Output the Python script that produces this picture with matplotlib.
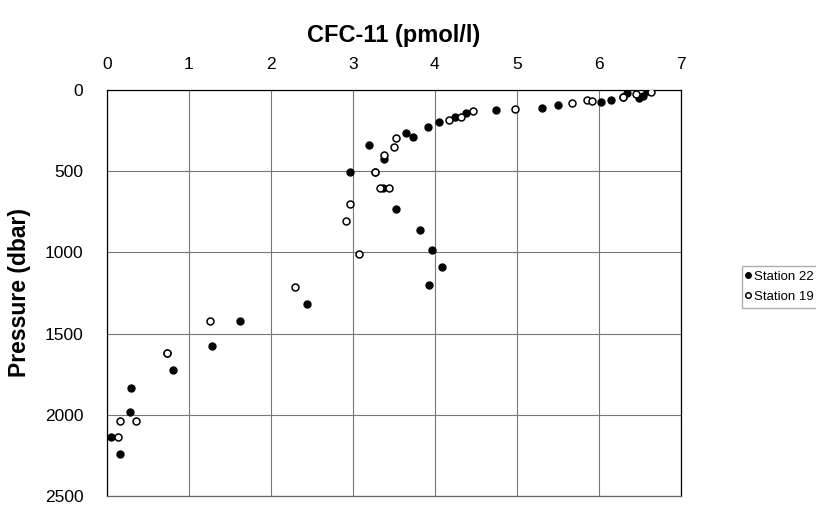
import matplotlib
matplotlib.use('Agg')
import matplotlib.pyplot as plt

plt.rcParams['font.family'] = ['Liberation Sans', 'DejaVu Sans']

# Station 22 (filled circles)
st22_cfc = [3.19, 3.38, 3.65, 3.73, 3.92, 4.05, 4.25, 4.38, 4.74, 5.30, 5.50,
            6.03, 6.15, 6.29, 6.34, 6.49, 6.54, 6.58, 2.96, 3.27, 3.37, 3.53,
            3.82, 3.97, 4.09, 3.93, 2.44, 1.62, 1.28, 0.735, 0.80, 0.30, 0.285,
            0.05, 0.155]
st22_p = [340, 425, 267, 292, 230, 195, 165, 144, 123, 111, 90,
          74, 64, 45, 20, 51, 35, 5, 508, 508, 605, 733,
          862, 988, 1088, 1199, 1317, 1420, 1574, 1623, 1726, 1833, 1983,
          2140, 2239]

# Station 19 (open circles)
st19_cfc = [3.38, 3.50, 3.53, 4.17, 4.32, 4.47, 4.98, 5.67, 5.86, 5.91, 6.29,
            6.45, 6.63, 3.27, 3.33, 3.44, 2.97, 2.91, 3.08, 2.29, 1.26, 0.735,
            0.155, 0.35, 0.14]
st19_p = [401, 350, 298, 185, 165, 128, 119, 78, 60, 68, 41,
          23, 14, 508, 605, 605, 704, 807, 1012, 1212, 1420, 1623,
          2037, 2037, 2140]

xticks = [0, 1, 2, 3, 4, 5, 6, 7]
yticks = [0, 500, 1000, 1500, 2000, 2500]

fig = plt.figure(figsize=(8.16, 5.05), dpi=100)
ax = fig.add_axes([0.131, 0.018, 0.7035, 0.804])

ax.plot(st22_cfc, st22_p, 'o', color='black', markersize=5, label='Station 22', zorder=3)
ax.plot(st19_cfc, st19_p, 'o', markerfacecolor='white', markeredgecolor='black',
        markeredgewidth=1.1, markersize=5, label='Station 19', zorder=3)

ax.set_xlim(0, 7)
ax.set_ylim(2500, 0)
ax.set_xticks(xticks)
ax.set_yticks(yticks)
ax.xaxis.tick_top()
ax.xaxis.set_label_position('top')
ax.tick_params(length=0, labelsize=12.5)
ax.tick_params(axis='x', pad=13)
ax.tick_params(axis='y', pad=17)
ax.grid(True, color='#777777', linewidth=0.8)
for s in ax.spines.values():
    s.set_color('black')
    s.set_linewidth(0.9)
ax.spines['bottom'].set_color('#666666')

ax.set_xlabel('CFC-11 (pmol/l)', fontsize=17, fontweight='bold', labelpad=11)
ax.set_ylabel('Pressure (dbar)', fontsize=16.5, fontweight='bold', labelpad=10)

fig.legend(loc='center left', bbox_to_anchor=(0.909, 0.432), fontsize=9.5,
           frameon=True, fancybox=False, edgecolor='#999999', handlelength=0.3,
           handletextpad=0.25, borderpad=0.35, borderaxespad=0, labelspacing=0.6,
           markerscale=0.8)

fig.savefig('out.png', dpi=100)
